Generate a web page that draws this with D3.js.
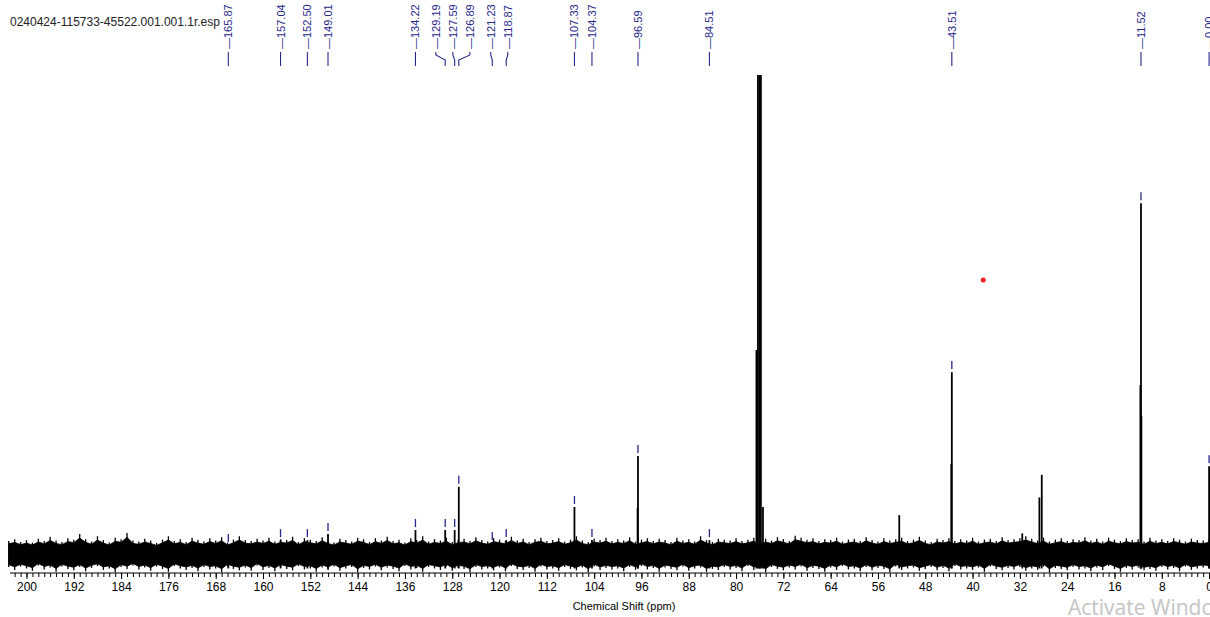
<!DOCTYPE html>
<html><head><meta charset="utf-8">
<script src="https://cdn.jsdelivr.net/npm/d3@7"></script>
<style>body{margin:0;background:#fff}svg{display:block}</style>
</head><body>
<svg id="c" width="1210" height="617"></svg>
<script>
// ---------------- data ----------------
const fileTitle = "0240424-115733-45522.001.001.1r.esp";
const axisTitle = "Chemical Shift (ppm)";
const labeledPeaks = [165.87,157.04,152.50,149.01,134.22,129.19,127.59,126.89,121.23,118.87,107.33,104.37,96.59,84.51,43.51,11.52,0.00];
const labeledHeights = [2.1,3.1,3.1,4.4,5.2,5.2,5.2,14.2,2.5,3.1,10.0,3.1,20.6,3.1,38.1,73.3,18.5];
const otherPeaks = [76.55,76.30,76.05,75.80,75.45,52.40,28.70,28.30,31.60,11.62,11.45,43.60,96.65];
const otherHeights = [42.7,110,110,110,10,8.3,12.0,16.7,4.5,35.4,29.0,19.0,9.8];
const tickValues = d3.range(0,201,8);
const noiseStart = 203; // ppm of first noise sample, 1 ppm step
const noiseTop = [
2.9,3.3,2.7,
3.1,2.6,3.4,2.9,3.8,3.0,2.7,3.5,3.2,4.4,
3.3,2.8,3.9,3.1,2.6,3.6,3.3,4.6,3.0,2.8,
3.4,3.0,2.5,3.2,3.9,2.9,3.3,2.7,3.6,3.1,
2.8,3.5,3.0,3.7,2.6,3.2,3.9,3.1,2.9,3.4,
3.0,3.6,2.8,3.3,3.1,3.8,2.7,3.5,3.2,2.9,
3.7,3.0,2.6,3.4,3.1,2.8,3.6,3.3,2.7,3.5,
3.0,3.8,2.9,3.2,2.6,3.5,3.1,3.9,2.8,3.3,
3.0,3.6,2.7,3.2,3.4,2.9,3.7,3.1,2.8,3.5,
3.2,2.9,3.8,3.0,3.4,2.7,3.3,3.6,2.9,3.1,
3.5,2.8,3.2,3.9,3.0,2.7,3.4,3.1,3.6,2.9,
3.3,3.0,3.7,2.8,3.2,3.5,2.9,3.4,3.1,2.7,
3.6,3.0,3.3,2.8,3.9,3.1,2.7,3.4,3.2,3.0,
3.5,2.9,3.2,3.6,2.8,3.4,3.0,3.7,3.3,2.9,
4.0,3.6,3.2,3.5,2.9,3.3,3.1,3.6,2.8,3.2,
3.4,2.9,3.7,3.1,2.8,3.5,3.0,3.3,3.6,2.9,
3.2,3.8,3.0,2.7,3.4,3.1,3.5,2.9,3.3,3.0,
3.6,2.8,3.2,3.4,2.9,3.7,3.1,3.3,3.5,3.9,
3.4,3.0,3.6,2.8,3.2,3.5,2.9,3.3,3.1,3.7,
3.0,3.4,2.8,3.6,3.2,2.9,3.5,3.1,3.3,2.8,
3.6,3.0,3.3,2.9,3.5,3.2,2.8,3.4,3.1,3.0,
3.3];
const noiseBottom = [
-2.5,-3.1,-2.4,
-2.8,-3.3,-2.2,-3.0,-2.6,-3.5,-2.4,-2.9,-3.2,-2.5,
-3.4,-2.7,-2.3,-3.1,-2.8,-3.6,-2.5,-2.9,-2.2,-3.0,
-2.6,-3.3,-2.4,-2.9,-3.5,-2.3,-2.8,-3.1,-2.7,-3.4,
-2.5,-3.0,-2.8,-3.6,-2.4,-2.9,-3.2,-2.6,-3.3,-2.2,
-3.1,-2.7,-3.4,-2.5,-2.9,-3.2,-2.3,-3.0,-2.8,-3.5,
-2.6,-3.1,-2.4,-3.3,-2.8,-2.5,-3.6,-2.7,-3.0,-2.4,
-3.2,-2.6,-2.9,-3.4,-2.3,-3.0,-2.7,-3.5,-2.5,-2.8,
-3.1,-2.4,-3.3,-2.7,-2.9,-3.6,-2.5,-3.0,-2.8,-3.2,
-2.6,-3.4,-2.3,-2.9,-3.1,-2.7,-3.5,-2.4,-3.0,-2.8,
-3.3,-2.5,-2.9,-3.2,-2.6,-3.6,-2.4,-3.1,-2.7,-3.0,
-2.8,-3.4,-2.5,-3.1,-2.3,-3.0,-2.7,-3.5,-2.6,-2.9,
-3.2,-2.4,-3.3,-2.8,-2.6,-3.5,-2.9,-3.1,-2.5,-3.0,
-2.7,-3.4,-2.3,-3.1,-2.8,-3.6,-2.5,-2.9,-3.2,-2.6,
-3.0,-2.4,-3.3,-2.7,-2.9,-3.5,-2.6,-3.1,-2.3,-3.0,
-2.8,-3.4,-2.5,-3.2,-2.7,-2.9,-3.6,-2.4,-3.1,-2.8,
-2.6,-3.3,-2.9,-2.5,-3.2,-2.7,-3.4,-2.3,-3.0,-2.8,
-3.1,-2.6,-3.5,-2.4,-2.9,-3.2,-2.7,-3.0,-2.5,-3.3,
-2.8,-3.1,-2.4,-3.6,-2.7,-2.9,-3.2,-2.5,-3.0,-2.8,
-3.4,-2.6,-3.1,-2.3,-2.9,-3.5,-2.7,-3.0,-2.6,-3.2,
-2.9,-3.3,-2.5,-3.0,-2.7,-3.4,-2.4,-3.1,-2.8,-2.6,
-2.8];
const cursorPoint = [38.2, 57.3]; // [ppm, intensity]
const watermark = "Activate Windows";

// ---------------- drawing ----------------
const svg = d3.select("#c");
const FONT = "Liberation Sans, Arial, sans-serif";
const BLUE = "#27278a";
const x = d3.scaleLinear().domain([200,0]).range([26.5,1209.1]);
const y = d3.scaleLinear().domain([0,100]).range([555,75]);

svg.append("defs").append("clipPath").attr("id","plot")
  .append("rect").attr("x",0).attr("y",y(100)).attr("width",1210).attr("height",574-y(100));

const plot = svg.append("g").attr("clip-path","url(#plot)");

// noise: solid core + hair-line spikes at every sample
const noise = noiseTop.map((t,i)=>({ppm:noiseStart-i, hi:t, lo:noiseBottom[i]}));
const CORE = 0.8;
plot.append("path").datum(noise)
  .attr("d", d3.area().x(d=>x(d.ppm)).y0(d=>y(d.lo*CORE)).y1(d=>y(d.hi*CORE)))
  .attr("fill","#000").attr("stroke","#000").attr("stroke-width",0.8);
plot.selectAll("line.nz").data(noise).join("line").attr("class","nz")
  .attr("x1",d=>x(d.ppm)).attr("x2",d=>x(d.ppm))
  .attr("y1",d=>y(d.lo)).attr("y2",d=>y(d.hi))
  .attr("stroke","#000").attr("stroke-width",1.3);

// peaks
const peaks = labeledPeaks.map((p,i)=>({ppm:p,h:labeledHeights[i],lab:true}))
  .concat(otherPeaks.map((p,i)=>({ppm:p,h:otherHeights[i],lab:false})));
plot.selectAll("line.pk").data(peaks).join("line").attr("class","pk")
  .attr("x1",d=>x(d.ppm)).attr("x2",d=>x(d.ppm))
  .attr("y1",y(-2.8)).attr("y2",d=>y(d.h))
  .attr("stroke","#000").attr("stroke-width",1.8);

// peak top dashes
svg.selectAll("line.dash").data(peaks.filter(d=>d.lab)).join("line").attr("class","dash")
  .attr("x1",d=>x(d.ppm)).attr("x2",d=>x(d.ppm))
  .attr("y1",d=>y(d.h)-11).attr("y2",d=>y(d.h)-3)
  .attr("stroke",BLUE).attr("stroke-width",1.3);

// label layout (spread crowded labels)
let labs = labeledPeaks.map(p=>({ppm:p, px:x(p), lx:x(p)})).sort((a,b)=>a.px-b.px);
const GAP = 17;
let groups = labs.map(l=>[l]);
let merged = true;
while (merged) {
  merged = false;
  for (let i=0;i<groups.length-1;i++){
    const g1=groups[i], g2=groups[i+1];
    if (g2[0].lx - g1[g1.length-1].lx < GAP - 0.01) {
      const g = g1.concat(g2);
      const c = d3.mean(g, d=>d.px);
      g.forEach((d,k)=>d.lx = c + (k-(g.length-1)/2)*GAP);
      groups.splice(i,2,g); merged = true; break;
    }
  }
}
const labG = svg.append("g");
labs.forEach(l=>{
  labG.append("path")
    .attr("d", Math.abs(l.lx-l.px)<0.5
      ? `M${l.px},52V66`
      : `M${l.lx},52V55L${l.px},60V66`)
    .attr("fill","none").attr("stroke",BLUE).attr("stroke-width",1.1);
  labG.append("text")
    .attr("transform",`translate(${l.lx+4},49) rotate(-90)`)
    .attr("font-family",FONT).attr("font-size",11).attr("fill",BLUE)
    .text("\u2014"+l.ppm.toFixed(2));
});

// title
svg.append("text").attr("x",10).attr("y",26).attr("font-family",FONT)
  .attr("font-size",12).attr("fill","#222").text(fileTitle);

// axis
const ax = svg.append("g").attr("transform","translate(0,573)");
ax.append("g").call(d3.axisBottom(x).tickValues(d3.range(0,203,1)).tickSize(4).tickFormat(""))
  .call(g=>g.select(".domain").remove());
ax.append("g").call(d3.axisBottom(x).tickValues(tickValues).tickSize(6).tickFormat(d3.format("d")))
  .call(g=>g.select(".domain").remove())
  .call(g=>g.selectAll("text").attr("font-family",FONT).attr("font-size",12).attr("fill","#000"));
ax.selectAll("line").attr("stroke","#000");
ax.append("line").attr("x1",10).attr("x2",1210).attr("y1",0).attr("y2",0)
  .attr("stroke","#000").attr("stroke-width",1.2);
svg.append("text").attr("x",624).attr("y",610).attr("text-anchor","middle")
  .attr("font-family",FONT).attr("font-size",11).attr("fill","#000").text(axisTitle);

// cursor dot
svg.append("circle").attr("cx",x(cursorPoint[0])).attr("cy",y(cursorPoint[1]))
  .attr("r",2.5).attr("fill","#e8202a");

// watermark (partly outside the window, as in the reference screenshot)
svg.append("text").attr("x",1068).attr("y",615).attr("font-family","Open Sans, sans-serif")
  .attr("font-size",21).attr("fill","#c4c4c4").text(watermark);
</script>
</body></html>
